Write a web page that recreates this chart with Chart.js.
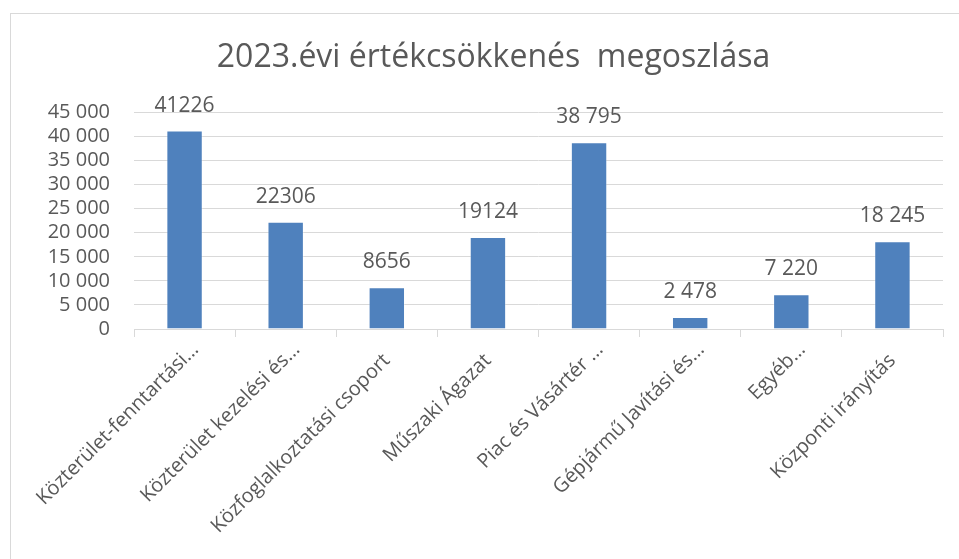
<!DOCTYPE html>
<html>
<head>
<meta charset="utf-8">
<script src="https://cdn.jsdelivr.net/npm/chart.js@4.4.0/dist/chart.umd.min.js"></script>
<style>
  html, body { margin: 0; padding: 0; background: #fff; overflow: hidden; }
  #frame {
    position: absolute; left: 10px; top: 13px;
    width: 965px; height: 560px;
    border-left: 1px solid #d9d9d9; border-top: 1px solid #d9d9d9;
  }
  #frame canvas { position: absolute; left: 0; top: 0; }
</style>
</head>
<body>
<div id="frame"><canvas id="ertekcsokkenes" width="965" height="545"></canvas></div>
<script>
// a nem rovidített neveknél a záró szóközök csak igazítanak (mint az Excel)
var kategoriak = [
    'Közterület-fenntartási…',
    'Közterület kezelési és…',
    'Közfoglalkoztatási csoport   ',
    'Műszaki Ágazat   ',
    'Piac és Vásártér …',
    'Gépjármű Javítási és…',
    'Egyéb…',
    'Központi irányítás   '
];
var ertekek = [41226, 22306, 8656, 19124, 38795, 2478, 7220, 18245];
var cimkek = ['41226', '22306', '8656', '19124', '38 795', '2 478', '7 220', '18 245'];
var yTickCimkek = ['0', '5 000', '10 000', '15 000', '20 000', '25 000', '30 000', '35 000', '40 000', '45 000'];

var szurke = '#595959';
var racs = '#d9d9d9';
var betu = "'Open Sans', sans-serif";

// ertekek kiirasa az oszlopok fole
var cimkePlugin = {
    id: 'oszlopCimkek',
    afterDatasetsDraw: function(chart){
        var ctx = chart.ctx;
        var meta = chart.getDatasetMeta(0);
        ctx.save();
        ctx.fillStyle = szurke;
        ctx.font = "21px " + betu;
        ctx.textAlign = 'center';
        ctx.textBaseline = 'alphabetic';
        for(var i in meta.data){
            var bar = meta.data[i];
            ctx.fillText(cimkek[i], bar.x, bar.y - 19);
        }
        ctx.restore();
    }
};

var grafikon = new Chart(document.getElementById('ertekcsokkenes'), {
    type: 'bar',
    data: {
        labels: kategoriak,
        datasets: [{
            label: 'Értékcsökkenés',
            data: ertekek,
            backgroundColor: '#4f81bd',
            borderColor: 'rgba(255,255,255,0.35)',
            borderWidth: 1,
            barPercentage: 0.36,
            categoryPercentage: 1
        }]
    },
    options: {
        responsive: false,
        animation: false,
        layout: { padding: 0 },
        plugins: {
            legend: { display: false },
            tooltip: { enabled: false },
            title: {
                display: true,
                text: '2023.évi értékcsökkenés  megoszlása',
                color: szurke,
                font: { family: betu, size: 32, weight: 'normal', lineHeight: 1.2 },
                padding: { top: 25, bottom: 35 }
            }
        },
        scales: {
            x: {
                grid: {
                    drawOnChartArea: false,
                    drawTicks: true,
                    tickLength: 8,
                    color: racs
                },
                border: { display: true, color: racs },
                ticks: {
                    autoSkip: false,
                    minRotation: 45,
                    maxRotation: 45,
                    labelOffset: 11,
                    padding: 1,
                    color: szurke,
                    font: { family: betu, size: 20 }
                },
                afterFit: function(scale){
                    scale.height = 230;
                    scale.paddingLeft = 0;
                    scale.paddingRight = 33;
                }
            },
            y: {
                min: 0,
                max: 45000,
                grid: { color: racs, drawTicks: false },
                border: { display: false },
                ticks: {
                    autoSkip: false,
                    stepSize: 5000,
                    padding: 24,
                    color: szurke,
                    font: { family: betu, size: 20 },
                    callback: function(value, index){
                        return yTickCimkek[index];
                    }
                },
                afterFit: function(scale){
                    scale.width = 123;
                }
            }
        }
    },
    plugins: [cimkePlugin]
});
</script>
</body>
</html>
